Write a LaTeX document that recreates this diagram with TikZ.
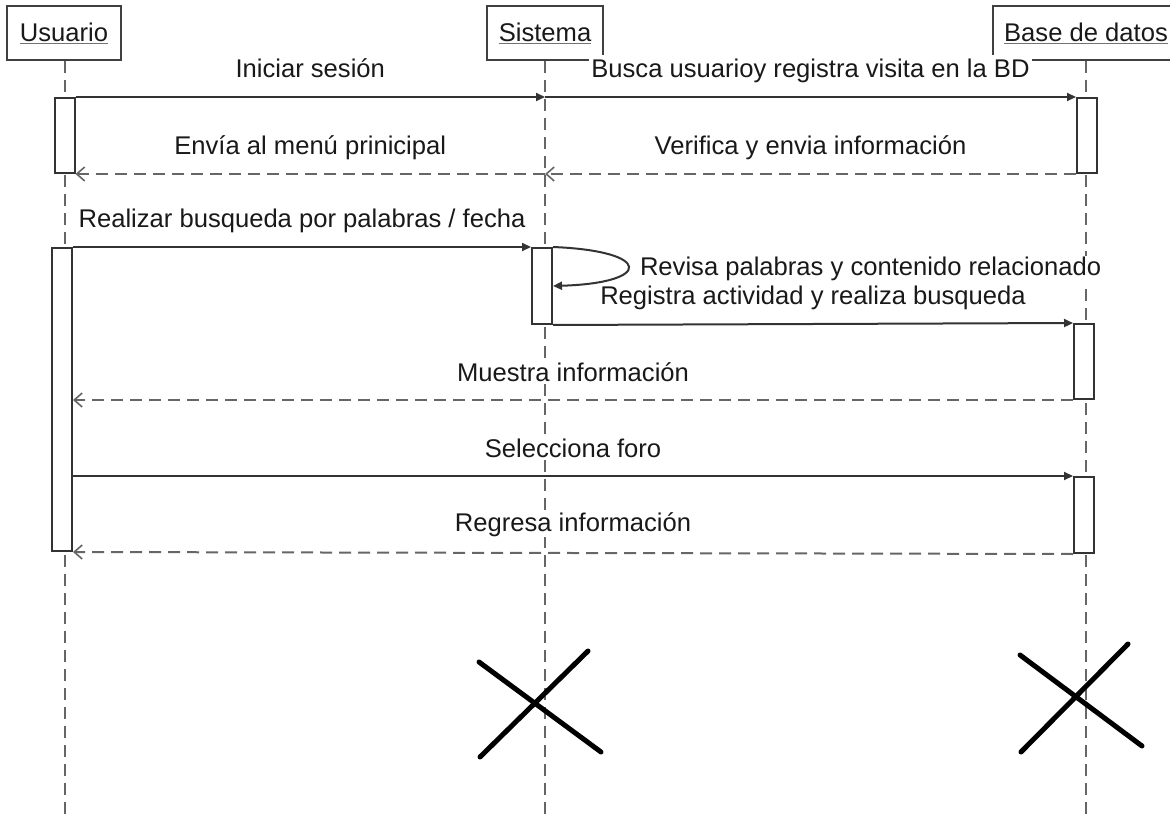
\documentclass[tikz,border=0pt]{standalone}
\usepackage{fontspec}
\setmainfont{Liberation Sans}
\usetikzlibrary{arrows.meta,calc}

% underlined participant name with a grey rule
\newcommand\pname[1]{{\color{black!55}\underline{\color{black!90}#1}}}

\begin{document}
\begin{tikzpicture}[x=1pt,y=-1pt,
  every node/.style={font=\fontsize{25.6}{30}\selectfont, text=black!90, inner sep=2pt},
  header/.style={draw=black!75, line width=2pt, fill=white, minimum height=54pt, inner sep=0pt},
  act/.style={draw=black!80, line width=2pt, fill=white, minimum width=20pt, inner sep=0pt},
  lifeline/.style={draw=black!60, line width=2pt, dash pattern=on 12pt off 7pt},
  msg/.style={draw=black!80, line width=2pt, -{Triangle[length=9pt,width=8pt]}},
  ret/.style={draw=black!60, line width=2pt, dash pattern=on 12pt off 7pt,
              -{Straight Barb[length=8pt,width=14pt,line width=1.6pt]}},
  lbl/.style={midway, anchor=base, yshift=19pt, fill=white, inner ysep=1pt},
  kill/.style={line width=5pt, line cap=round, draw=black}
]
\useasboundingbox (0,0) rectangle (1170,818);

% participants
\node[header, minimum width=114pt] (usr) at (64,33) {\pname{Usuario}};
\node[header, minimum width=116pt] (sys) at (545,33) {\pname{Sistema}};
\node[header, minimum width=186pt] (db)  at (1086,33) {\pname{Base de datos}};

% lifelines
\coordinate (usrEnd) at (65,818);
\coordinate (sysEnd) at (545,818);
\coordinate (dbEnd)  at (1086,818);
\draw[lifeline] (usr.south -| usrEnd) -- (usrEnd);
\draw[lifeline] (sys.south -| sysEnd) -- (sysEnd);
\draw[lifeline] (db.south -| dbEnd) -- (dbEnd);

% activation bars
\node[act, minimum height=75pt]  (u1) at (64.5,135.5) {};
\node[act, minimum height=303pt] (u2) at (62,399.5) {};
\node[act, minimum height=76pt]  (s1) at (542,286) {};
\node[act, minimum height=75pt]  (d1) at (1087,135.5) {};
\node[act, minimum height=75pt]  (d2) at (1084,361.5) {};
\node[act, minimum height=76pt]  (d3) at (1084,515) {};

% login
\draw[msg] (u1.north east) -- (u1.north east -| sys) node[lbl] (m1) {Iniciar sesión};
\draw[msg] (u1.north east -| sys) -- (d1.north west)
  node[lbl, inner ysep=4pt] (m2) {Busca usuarioy registra visita en la BD};
\draw[ret] (d1.south west) -- (d1.south west -| sys) node[lbl] (m3) {Verifica y envia información};
\draw[ret] (d1.south west -| sys) -- (u1.south east) node[lbl] (m4) {Envía al menú prinicipal};

% search
\draw[msg] (u2.north east) -- (s1.north west) node[lbl] (m5) {Realizar busqueda por palabras / fecha};
\draw[msg] (s1.north east) .. controls +(100,4) and +(100,-3) .. (s1.east)
  node[pos=0.5, anchor=base west, xshift=9pt, yshift=-9pt, fill=white, inner ysep=1pt] (m6)
  {Revisa palabras y contenido relacionado};
\draw[msg] (s1.south east) -- (d2.north west) node[lbl] (m7) {Registra actividad y realiza busqueda};
\draw[ret] (d2.south west) -- (d2.south west -| u2.east) node[lbl] (m8) {Muestra información};

% forum
\draw[msg] (d3.north west -| u2.east) -- (d3.north west) node[lbl] (m9) {Selecciona foro};
\draw[ret] (d3.south west) -- (u2.south east) node[lbl, yshift=3pt] (m10) {Regresa información};

% destruction marks
\draw[kill] (479,662) -- (601,752);
\draw[kill] (480,757) -- (588,651);
\draw[kill] (1020,655) -- (1142,746);
\draw[kill] (1021,752) -- (1128,644);
\end{tikzpicture}
\end{document}
